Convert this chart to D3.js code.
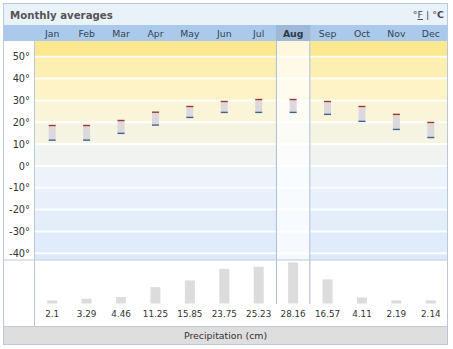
<!DOCTYPE html>
<html><head><meta charset="utf-8">
<script src="https://cdn.jsdelivr.net/npm/d3@7"></script>
<style>body{margin:0;background:#fff}svg{display:block}text{font-family:"DejaVu Sans",Verdana,sans-serif}</style>
</head><body><div id="c"></div>
<script>
const months = ["Jan","Feb","Mar","Apr","May","Jun","Jul","Aug","Sep","Oct","Nov","Dec"];
const highs = [18.5,18.5,20.8,24.6,27.2,29.5,30.4,30.4,29.5,27.2,23.6,19.9];
const lows  = [11.8,11.8,14.9,18.7,22.2,24.5,24.5,24.5,23.6,20.4,16.7,13.0];
const precip = [2.1,3.29,4.46,11.25,15.85,23.75,25.23,28.16,16.57,4.11,2.19,2.14];
const precipLabels = ["2.1","3.29","4.46","11.25","15.85","23.75","25.23","28.16","16.57","4.11","2.19","2.14"];
const tempTicks = [50,40,30,20,10,0,-10,-20,-30,-40];
const bandColors = [["#fde892",50,60],["#fdefb1",40,50],["#fdf3c6",30,40],["#faf5d9",20,30],["#f5f4e3",10,20],["#f0f3f0",0,10],["#ecf3fb",-10,0],["#e8f1fb",-20,-10],["#e4eefb",-30,-20],["#e0ecfb",-40,-30],["#dde9fb",-50,-40]];
const highlight = "Aug";

const W=453,H=349;
const L=3,R=448,T=3,B=345;
const plotL=35, plotR=448, plotT=41, plotB=259.5, precB=326;
const svg=d3.select("#c").append("svg").attr("width",W).attr("height",H);

const x=d3.scaleBand().domain(months).range([plotL,plotR]);
const y=d3.scaleLinear().domain([-40,50]).range([253.3,56.7]);
const yp=d3.scaleLinear().domain([0,28.16]).range([303.5,262.5]);

svg.append("rect").attr("x",L).attr("y",T).attr("width",R-L).attr("height",B-T).attr("fill","#fff");
svg.append("rect").attr("x",L).attr("y",T).attr("width",R-L).attr("height",22).attr("fill","#e9f1f9");
svg.append("text").attr("x",10).attr("y",19).attr("font-size",10.2).attr("font-weight","bold").attr("fill","#555").text("Monthly averages");
const u=svg.append("text").attr("x",444).attr("y",18).attr("text-anchor","end").attr("font-size",9.5).attr("fill","#445");
u.append("tspan").text("°");
u.append("tspan").attr("text-decoration","underline").text("F");
u.append("tspan").text(" | °");
u.append("tspan").attr("font-weight","bold").text("C");
svg.append("rect").attr("x",L).attr("y",25).attr("width",R-L).attr("height",16).attr("fill","#abc9ea");
svg.append("rect").attr("x",x(highlight)).attr("y",25).attr("width",x.bandwidth()).attr("height",16).attr("fill","#9db9d7");
svg.selectAll(".mh").data(months).join("text")
  .attr("x",d=>x(d)+x.bandwidth()/2).attr("y",37).attr("text-anchor","middle")
  .attr("font-size",9.3).attr("fill",d=>d===highlight?"#2a3a4a":"#334455")
  .attr("font-weight",d=>d===highlight?"bold":"normal").text(d=>d);

const g=svg.append("g");
g.selectAll(".band").data(bandColors).join("rect")
  .attr("x",plotL).attr("width",plotR-plotL)
  .attr("y",d=>Math.max(plotT,y(d[2]))).attr("height",d=>Math.max(0,Math.min(plotB,y(d[1]))-Math.max(plotT,y(d[2]))))
  .attr("fill",d=>d[0]);
g.selectAll(".grid").data(tempTicks).join("line")
  .attr("x1",plotL).attr("x2",plotR).attr("y1",d=>y(d)).attr("y2",d=>y(d))
  .attr("stroke","#fff").attr("stroke-width",2).attr("stroke-opacity",0.9);
svg.append("rect").attr("x",x(highlight)).attr("y",plotT).attr("width",x.bandwidth()).attr("height",plotB-plotT).attr("fill","#fff").attr("opacity",0.7);
svg.append("line").attr("x1",x(highlight)+0.5).attr("x2",x(highlight)+0.5).attr("y1",plotT).attr("y2",304).attr("stroke","#aabdd0");
svg.append("line").attr("x1",x(highlight)+x.bandwidth()-0.5).attr("x2",x(highlight)+x.bandwidth()-0.5).attr("y1",plotT).attr("y2",304).attr("stroke","#aabdd0");

svg.selectAll(".yl").data(tempTicks).join("text")
  .attr("x",30).attr("y",d=>y(d)+3.6).attr("text-anchor","end").attr("font-size",9.8).attr("fill","#333")
  .text(d=>d+"°");

const defs=svg.append("defs");
const gr=defs.append("linearGradient").attr("id","tg").attr("x1",0).attr("x2",0).attr("y1",0).attr("y2",1);
gr.append("stop").attr("offset","0%").attr("stop-color","#e2d6d8");
gr.append("stop").attr("offset","100%").attr("stop-color","#d6dae2");
const bw=7;
svg.selectAll(".tb").data(months).join("rect")
  .attr("x",d=>x(d)+x.bandwidth()/2-bw/2).attr("width",bw)
  .attr("y",(d,i)=>y(highs[i])).attr("height",(d,i)=>y(lows[i])-y(highs[i]))
  .attr("fill","url(#tg)");
svg.selectAll(".th").data(months).join("line")
  .attr("x1",d=>x(d)+x.bandwidth()/2-bw/2).attr("x2",d=>x(d)+x.bandwidth()/2+bw/2)
  .attr("y1",(d,i)=>y(highs[i])).attr("y2",(d,i)=>y(highs[i]))
  .attr("stroke","#9b3a2e").attr("stroke-width",1.4);
svg.selectAll(".tl").data(months).join("line")
  .attr("x1",d=>x(d)+x.bandwidth()/2-bw/2).attr("x2",d=>x(d)+x.bandwidth()/2+bw/2)
  .attr("y1",(d,i)=>y(lows[i])).attr("y2",(d,i)=>y(lows[i]))
  .attr("stroke","#3f6488").attr("stroke-width",1.4);

const pw=10;
svg.selectAll(".pb").data(months).join("rect")
  .attr("x",d=>x(d)+x.bandwidth()/2-pw/2).attr("width",pw)
  .attr("y",(d,i)=>yp(precip[i])).attr("height",(d,i)=>yp(0)-yp(precip[i]))
  .attr("fill","#dcdcdc");
svg.selectAll(".pl").data(months).join("text")
  .attr("x",d=>x(d)+x.bandwidth()/2).attr("y",317).attr("text-anchor","middle")
  .attr("font-size",8.8).attr("fill","#333").text((d,i)=>precipLabels[i]);

svg.append("line").attr("x1",34.5).attr("x2",34.5).attr("y1",41).attr("y2",precB).attr("stroke","#b9c9d9");
svg.append("line").attr("x1",L).attr("x2",R).attr("y1",plotB+0.5).attr("y2",plotB+0.5).attr("stroke","#b9c9d9");

svg.append("rect").attr("x",L).attr("y",precB).attr("width",R-L).attr("height",B-precB).attr("fill","#dedede");
svg.append("line").attr("x1",L).attr("x2",R).attr("y1",precB+0.5).attr("y2",precB+0.5).attr("stroke","#c2cad2");
svg.append("text").attr("x",(L+R)/2).attr("y",339).attr("text-anchor","middle").attr("font-size",9.4).attr("fill","#333").text("Precipitation (cm)");

svg.append("rect").attr("x",L+0.5).attr("y",T+0.5).attr("width",R-L-1).attr("height",B-T-1).attr("fill","none").attr("stroke","#b9c9d9");
</script></body></html>
